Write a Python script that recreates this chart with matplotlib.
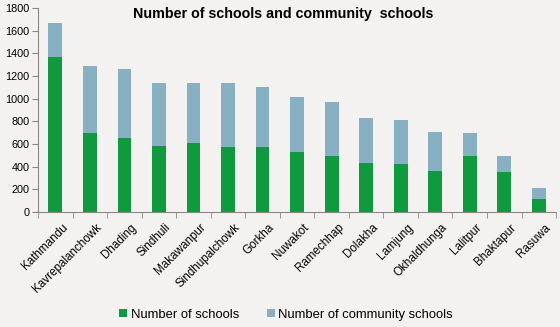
import matplotlib
matplotlib.use("Agg")
import matplotlib.pyplot as plt
import matplotlib.transforms as mtransforms
import numpy as np

districts = ["Kathmandu", "Kavrepalanchowk", "Dhading", "Sindhuli", "Makawanpur",
             "Sindhupalchowk", "Gorkha", "Nuwakot", "Ramechhap", "Dolakha",
             "Lamjung", "Okhaldhunga", "Lalitpur", "Bhaktapur", "Rasuwa"]
schools = [1365, 700, 655, 585, 610, 575, 575, 525, 495, 435, 425, 365, 490, 355, 110]
totals = [1665, 1285, 1260, 1140, 1140, 1140, 1105, 1015, 970, 830, 810, 705, 695, 490, 215]
community = [t - s for t, s in zip(totals, schools)]

bg = "#f3f2f0"
green = "#0f9a3e"
blue = "#87b1c3"

plt.rcParams["font.family"] = ["Liberation Sans", "DejaVu Sans"]

fig = plt.figure(figsize=(5.6, 3.27), dpi=100, facecolor=bg)
ax = fig.add_axes([0.068, 0.352, 0.925, 0.624])
ax.set_facecolor(bg)

x = np.arange(len(districts))
ax.bar(x, schools, width=0.4, color=green, label="Number of schools")
ax.bar(x, community, width=0.4, bottom=schools, color=blue, label="Number of community schools")

ax.set_xlim(-0.5, len(districts) - 0.5)
ax.set_ylim(0, 1800)
ax.set_yticks(range(0, 1801, 200))
ax.tick_params(axis="y", labelsize=7.8, length=4, color="#888888", pad=2)

ax.set_xticks(x)
ax.set_xticklabels(districts, rotation=45, ha="right", rotation_mode="anchor", fontsize=8.4)
ax.tick_params(axis="x", length=0, pad=4)
shift = mtransforms.ScaledTranslation(6 / 100, -4 / 100, fig.dpi_scale_trans)
for lbl in ax.get_xticklabels():
    lbl.set_transform(lbl.get_transform() + shift)
ax.set_xticks(np.arange(-0.5, len(districts), 1), minor=True)
ax.tick_params(axis="x", which="minor", length=4, color="#888888")

for s in ["top", "right"]:
    ax.spines[s].set_visible(False)
ax.spines["left"].set_color("#888888")
ax.spines["bottom"].set_color("#888888")

fig.text(0.506, 0.957, "Number of schools and community  schools", ha="center", va="center",
         fontsize=10.3, fontweight="bold")

fig.legend(loc="center", bbox_to_anchor=(0.511, 0.037), ncol=2, frameon=False, fontsize=9.4,
           handlelength=0.6, handleheight=0.6, handletextpad=0.3, columnspacing=2.1)

fig.savefig("out.png", dpi=100, facecolor=bg)
